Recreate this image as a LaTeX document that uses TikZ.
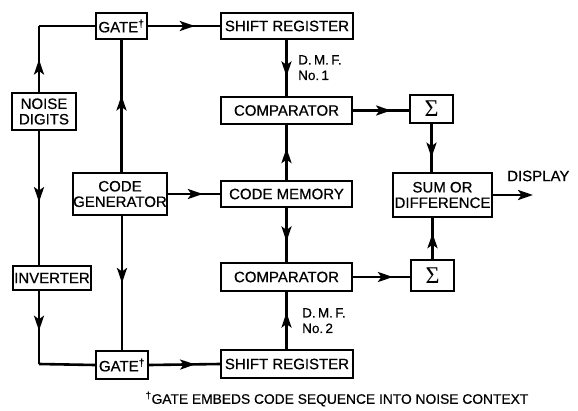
\documentclass[tikz,border=0pt]{standalone}
\usepackage{fontspec}
\setmainfont{Liberation Sans}[UprightFeatures={FakeBold=0.6}]
\newfontfamily\sigfont{Liberation Serif}
\usetikzlibrary{arrows.meta,decorations.markings}
\tikzset{
  blk/.style={draw, line width=2pt, inner sep=0pt, align=center,
    font=\fontsize{15}{16.5}\selectfont},
  sigbox/.style={blk, font=\sigfont\fontsize{24}{24}\selectfont},
  wire/.style={line width=2.6pt},
  midarr/.style={wire, postaction={decorate}, decoration={markings,
    mark=at position #1 with {\arrow{Stealth[length=15pt,width=10pt,inset=3.5pt]}}}},
  lbl/.style={font=\fontsize{13.5}{15.5}\selectfont, align=left, inner sep=0pt}
}
\begin{document}
\begin{tikzpicture}[x=1pt,y=-1pt]
\useasboundingbox (0,0) rectangle (578,410);
% boxes
\node[blk, minimum width=51pt, minimum height=26pt] (gate1) at (121.5,26) {GATE\textsuperscript{†}};
\node[blk, minimum width=132pt, minimum height=26pt] (sr1) at (287,26) {SHIFT REGISTER};
\node[blk, minimum width=64pt, minimum height=37pt] (noise) at (44,111.5) {NOISE\\[-1pt]DIGITS};
\node[blk, minimum width=94pt, minimum height=42pt] (codegen) at (120,194) {CODE\\[-1pt]GENERATOR};
\node[blk, minimum width=131pt, minimum height=27pt] (cmp1) at (286.5,110.5) {COMPARATOR};
\node[blk, minimum width=131pt, minimum height=26pt] (mem) at (286.5,194) {CODE MEMORY};
\node[blk, minimum width=131pt, minimum height=28pt] (cmp2) at (286.5,277) {COMPARATOR};
\node[blk, minimum width=132pt, minimum height=28pt] (sr2) at (287,364) {SHIFT REGISTER};
\node[blk, minimum width=78pt, minimum height=24pt] (inv) at (52,278) {INVERTER};
\node[blk, minimum width=52pt, minimum height=28pt] (gate2) at (122,365) {GATE\textsuperscript{†}};
\node[sigbox, minimum width=43pt, minimum height=28pt] (sig1) at (431.5,109) {Σ};
\node[sigbox, minimum width=43pt, minimum height=31pt] (sig2) at (432.5,275.5) {Σ};
\node[blk, minimum width=99pt, minimum height=44pt] (sum) at (442.5,195) {SUM OR\\[-1pt]DIFFERENCE};
% labels
\node[lbl, anchor=west, font=\fontsize{15}{16}\selectfont] (disp) at (507,176) {DISPLAY};
\node[lbl, anchor=north west] (dmf1) at (298,55) {D.\,M.\,F.\\No.\,1};
\node[lbl, anchor=north west] (dmf2) at (302,308) {D.\,M.\,F.\\No.\,2};
\node[lbl, anchor=center, font=\fontsize{13.8}{15}\selectfont] (note) at (337,399) {\textsuperscript{†}GATE EMBEDS CODE SEQUENCE INTO NOISE CONTEXT};
% coordinates
\coordinate (ctl) at (39,26);
\coordinate (cbl) at (39,364);
\coordinate (nt) at (39,93);
\coordinate (nb) at (39,130);
\coordinate (it) at (39,266);
\coordinate (ib) at (39,290);
\coordinate (dispend) at (533,195);
% connectors
\draw[midarr=0.5] (nt) -- (ctl);
\draw[wire] (ctl) -- (gate1.west);
\draw[midarr=0.53] (nb) -- (it);
\draw[midarr=0.55] (ib) -- (cbl);
\draw[wire] (cbl) -- (gate2.west);
\draw[midarr=0.65] (gate1.east) -- (sr1.west);
\draw[midarr=0.65] (gate2.east) -- (sr2.west);
\draw[midarr=0.58] (codegen.north -| gate1.south) -- (gate1.south);
\draw[midarr=0.5] (codegen.south -| gate2.north) -- (gate2.north);
\draw[midarr=0.67] (codegen.east) -- (mem.west);
\draw[midarr=0.65] (sr1.south -| cmp1.north) -- (cmp1.north);
\draw[midarr=0.58] (mem.north) -- (cmp1.south);
\draw[midarr=0.62] (mem.south) -- (cmp2.north);
\draw[midarr=0.64] (sr2.north -| cmp2.south) -- (cmp2.south);
\draw[midarr=0.68] (cmp1.east) -- (sig1.west |- cmp1.east);
\draw[midarr=0.7] (cmp2.east) -- (sig2.west |- cmp2.east);
\draw[midarr=0.7] (sig1.south) -- (sig1.south |- sum.north);
\draw[midarr=0.63] (sig2.north) -- (sig2.north |- sum.south);
\draw[wire, -{Stealth[length=15pt,width=10pt,inset=3.5pt]}] (sum.east) -- (dispend);
\end{tikzpicture}
\end{document}
